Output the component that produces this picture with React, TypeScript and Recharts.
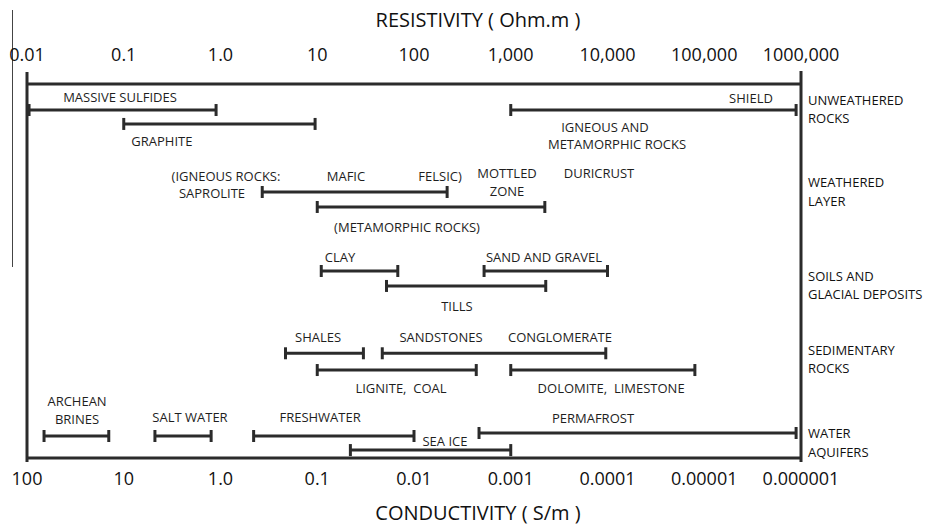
import { ScatterChart, Scatter, XAxis, YAxis, ReferenceLine } from "recharts";

const INK = "#2b2b2b";
const FONT = "'Open Sans', sans-serif";

const resistivityTicks = [0.01, 0.1, 1, 10, 100, 1000, 10000, 100000, 1000000];
const resistivityLabels = ["0.01", "0.1", "1.0", "10", "100", "1,000", "10,000", "100,000", "1000,000"];
const conductivityLabels = ["100", "10", "1.0", "0.1", "0.01", "0.001", "0.0001", "0.00001", "0.000001"];

// [material, low ohm.m, high ohm.m, lane]
const ranges: [string, number, number, number][] = [
  ["massive sulfides", 0.0105, 0.9, 1.74],
  ["graphite", 0.1, 9.5, 2.67],
  ["igneous and metamorphic", 1000, 890000, 1.74],
  ["saprolite", 2.7, 220, 7.22],
  ["metamorphic (weathered)", 10, 2250, 8.22],
  ["clay", 11, 68, 12.5],
  ["sand and gravel", 530, 10000, 12.5],
  ["tills", 52, 2300, 13.5],
  ["shales", 4.7, 30, 18],
  ["sandstones", 47, 9600, 18],
  ["lignite, coal", 10, 440, 19.12],
  ["dolomite, limestone", 1000, 80000, 19.12],
  ["archean brines", 0.015, 0.07, 23.53],
  ["salt water", 0.21, 0.8, 23.53],
  ["freshwater", 2.2, 100, 23.53],
  ["permafrost", 470, 890000, 23.33],
  ["sea ice", 22, 1000, 24.47],
];

// [text, ohm.m, lane]
const notes: [string, number, number][] = [
  ["MASSIVE SULFIDES", 0.0914, 0.87],
  ["GRAPHITE", 0.248, 3.81],
  ["SHIELD", 304000, 0.94],
  ["IGNEOUS AND", 9420, 2.87],
  ["METAMORPHIC ROCKS", 12540, 4.01],
  ["(IGNEOUS ROCKS:", 1.14, 6.15],
  ["SAPROLITE", 0.817, 7.29],
  ["MAFIC", 19.8, 6.15],
  ["FELSIC)", 186, 6.15],
  ["MOTTLED", 915, 5.95],
  ["ZONE", 915, 7.15],
  ["DURICRUST", 8170, 5.95],
  ["(METAMORPHIC ROCKS)", 84.7, 9.56],
  ["CLAY", 17.2, 11.56],
  ["SAND AND GRAVEL", 2207, 11.56],
  ["TILLS", 278, 14.84],
  ["SHALES", 10.2, 16.91],
  ["SANDSTONES", 190, 16.91],
  ["CONGLOMERATE", 3230, 16.91],
  ["LIGNITE,  COAL", 73.4, 20.32],
  ["DOLOMITE,  LIMESTONE", 10900, 20.32],
  ["ARCHEAN", 0.0329, 21.19],
  ["BRINES", 0.0329, 22.39],
  ["SALT WATER", 0.484, 22.26],
  ["FRESHWATER", 10.7, 22.26],
  ["SEA ICE", 209, 23.86],
  ["PERMAFROST", 7080, 22.33],
];

// group names on the right edge, [text, lane]
const groups: [string, number][] = [
  ["UNWEATHERED", 1.07],
  ["ROCKS", 2.27],
  ["WEATHERED", 6.55],
  ["LAYER", 7.82],
  ["SOILS AND", 12.83],
  ["GLACIAL DEPOSITS", 14.04],
  ["SEDIMENTARY", 17.78],
  ["ROCKS", 18.98],
  ["WATER", 23.33],
  ["AQUIFERS", 24.6],
];

const Cap = (props: any) => {
  const { cx, cy } = props;
  return <line x1={cx} x2={cx} y1={cy - 6} y2={cy + 6} stroke={INK} strokeWidth={3} />;
};

const NoteText = (props: any) => (
  <text x={props.cx} y={props.cy} textAnchor="middle" dominantBaseline="central" fontSize={13} fill="#1e1e1e" fontFamily={FONT} style={{ whiteSpace: "pre" }}>
    {props.payload.text}
  </text>
);

const GroupText = (props: any) => (
  <text x={props.cx + 7} y={props.cy} textAnchor="start" dominantBaseline="central" fontSize={13} fill="#111" fontFamily={FONT}>
    {props.payload.text}
  </text>
);

export default function App() {
  const noteData = notes.map(([text, x, y]) => ({ text, x, y }));
  const groupData = groups.map(([text, y]) => ({ text, x: 1000000, y }));

  return (
    <div style={{ position: "absolute", left: 0, top: 0, fontFamily: FONT }}>
      <div style={{ position: "absolute", left: 12, top: 10, width: 1, height: 257, background: "#444" }} />
      <ScatterChart width={925} height={526} margin={{ top: 0, right: 124, bottom: 0, left: 27 }}>
        <XAxis
          xAxisId="top"
          orientation="top"
          type="number"
          dataKey="x"
          scale="log"
          domain={[0.01, 1000000]}
          ticks={resistivityTicks}
          tickFormatter={(v: number) => resistivityLabels[resistivityTicks.indexOf(v)]}
          tick={{ fontSize: 18, fill: "#111", fontFamily: FONT }}
          tickLine={false}
          tickSize={0}
          tickMargin={23}
          height={84}
          axisLine={{ stroke: INK, strokeWidth: 3 }}
          label={{ value: "RESISTIVITY  ( Ohm.m )", position: "insideTop", offset: 13, dx: 64, fontSize: 20, fill: "#111", fontFamily: FONT, style: { whiteSpace: "pre" } }}
        />
        <XAxis
          xAxisId="bottom"
          orientation="bottom"
          type="number"
          dataKey="x"
          scale="log"
          domain={[0.01, 1000000]}
          ticks={resistivityTicks}
          tickFormatter={(v: number) => conductivityLabels[resistivityTicks.indexOf(v)]}
          tick={{ fontSize: 18, fill: "#111", fontFamily: FONT }}
          tickLine={false}
          tickSize={0}
          tickMargin={14}
          height={68}
          axisLine={{ stroke: INK, strokeWidth: 3 }}
          label={{ value: "CONDUCTIVITY  ( S/m )", position: "insideBottom", offset: 6, dx: 64, fontSize: 20, fill: "#111", fontFamily: FONT, style: { whiteSpace: "pre" } }}
        />
        <YAxis type="number" dataKey="y" domain={[0, 25]} reversed hide />
        <ReferenceLine
          xAxisId="top"
          segment={[{ x: 0.01, y: -0.8 }, { x: 0.01, y: 25.27 }]}
          stroke={INK}
          strokeWidth={3}
          ifOverflow="visible"
        />
        <ReferenceLine
          xAxisId="top"
          segment={[{ x: 1000000, y: -0.87 }, { x: 1000000, y: 25.27 }]}
          stroke={INK}
          strokeWidth={3}
          ifOverflow="visible"
        />
        {ranges.map(([name, lo, hi, lane]) => (
          <Scatter
            key={name}
            name={name}
            xAxisId="top"
            data={[{ x: lo, y: lane }, { x: hi, y: lane }]}
            line={{ stroke: INK, strokeWidth: 3 }}
            shape={Cap}
            isAnimationActive={false}
          />
        ))}
        <Scatter xAxisId="top" data={noteData} shape={NoteText} isAnimationActive={false} />
        <Scatter xAxisId="bottom" data={groupData} shape={GroupText} isAnimationActive={false} />
      </ScatterChart>
    </div>
  );
}
